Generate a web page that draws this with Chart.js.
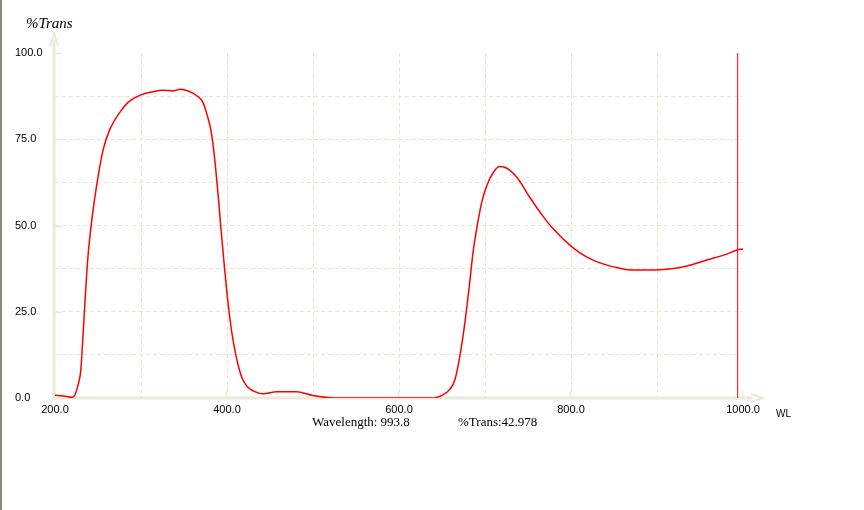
<!DOCTYPE html>
<html><head><meta charset="utf-8">
<script src="https://cdn.jsdelivr.net/npm/chart.js@4.4.0/dist/chart.umd.min.js"></script>
<style>html,body{margin:0;padding:0;background:#fff;overflow:hidden}#wrap{width:864px;height:510px;position:relative}</style>
</head><body><div id="wrap"><canvas id="c" width="864" height="510"></canvas></div>
<script>
const wavelengths = [200,210,219,223,227,230,233,238,243,250,256,264,276,285,299,314,326,337,345,355,365,372,376,381,384,387,390,393,397,401,405,409,413,418,424,431,442,458,481,500,526,560,600,638,651.5,659,665,671,677,682,686,691,696,702,710,717,723,737,752,768,779,801,818,838,857,872,896,911,934,958,981,993.8,1000];
const transmittance = [0.8,0.6,0.2,0.8,4,8,20,40,52,64,72,78,83,85.7,87.8,88.8,89.2,89,89.5,89,87.6,85.7,82.8,78,73,66,58,49,38,28,20,14,9.5,5.5,3.2,2,1.2,1.8,1.8,0.7,0,0,0,0,1,2.5,5.3,12.5,22.6,33,42,50,56.5,61.5,65.5,67.1,66.9,64,58.2,52.5,49.1,43.8,40.9,38.8,37.6,37.1,37.1,37.3,38.2,40,41.7,42.98,43.2];
const cursorWL = 993.8;
const cursorT = 42.978;
const xGridValues = [200,300,400,500,600,700,800,900,1000];
const xLabelValues = [200,400,600,800,1000];
const yGridValues = [0,12.5,25,37.5,50,62.5,75,87.5,100];
const yLabelValues = [0,25,50,75,100];
const xAxisName = 'WL';
const yAxisName = '%Trans';

const AXIS = '#ece9d8';
const GRID = '#e9e5d2';

const axesPlugin = {
  id: 'axesPlugin',
  beforeDatasetsDraw(chart) {
    const {ctx, scales: {x, y}} = chart;
    ctx.save();
    ctx.fillStyle = AXIS;
    const y0 = y.getPixelForValue(0);
    const x0 = x.getPixelForValue(200);
    ctx.fillRect(x0 - 2.5, 40, 3, y0 - 40 + 1.5);
    ctx.fillRect(x0 - 2.5, y0 - 1.5, 755 - x0, 3);
    ctx.strokeStyle = AXIS;
    ctx.lineWidth = 2;
    ctx.beginPath();
    ctx.moveTo(x0 - 5, 46); ctx.lineTo(x0 - 1, 33); ctx.lineTo(x0 + 3, 46);
    ctx.moveTo(751, y0 - 4); ctx.lineTo(763, y0); ctx.lineTo(751, y0 + 4);
    ctx.stroke();
    ctx.lineWidth = 1.5;
    ctx.beginPath();
    yLabelValues.forEach(v => { if (v === 0) return; const py = Math.round(y.getPixelForValue(v)) + 0.5; ctx.moveTo(x0, py); ctx.lineTo(x0 + 7, py); });
    xLabelValues.forEach(v => { if (v === 200) return; const px = Math.round(x.getPixelForValue(v)) - 0.5; ctx.moveTo(px, y0 - 1); ctx.lineTo(px, y0 - 7); });
    ctx.stroke();
    ctx.restore();
  },
  afterDraw(chart) {
    const {ctx} = chart;
    ctx.save();
    ctx.fillStyle = '#8a8a80';
    ctx.fillRect(0, 0, 2, 510);
    ctx.fillStyle = '#000';
    ctx.textBaseline = 'middle';
    ctx.textAlign = 'left';
    ctx.font = 'italic 15px "Liberation Serif"';
    ctx.fillText(yAxisName, 26, 24);
    ctx.font = '10px "Liberation Sans"';
    ctx.fillText(xAxisName, 776, 414);
    ctx.font = '13px "Liberation Serif"';
    ctx.fillText('Wavelength: ' + cursorWL.toFixed(1), 312, 423);
    ctx.fillText('%Trans:' + cursorT.toFixed(3), 458, 423);
    ctx.restore();
  }
};

new Chart(document.getElementById('c'), {
  type: 'line',
  data: {
    datasets: [
      {
        data: wavelengths.map((w, i) => ({x: w, y: transmittance[i]})),
        borderColor: '#ff0000', borderWidth: 1.5, pointRadius: 0,
        cubicInterpolationMode: 'monotone', fill: false
      },
      {
        data: [{x: cursorWL, y: 0}, {x: cursorWL, y: 100}],
        borderColor: '#ff0000', borderWidth: 1, pointRadius: 0, fill: false
      }
    ]
  },
  options: {
    responsive: false,
    devicePixelRatio: 1,
    animation: false,
    events: [],
    layout: {padding: {left: 15, top: 53, right: 121, bottom: 92}},
    plugins: {legend: {display: false}, tooltip: {enabled: false}, title: {display: false}},
    scales: {
      x: {
        type: 'linear', min: 200, max: 1000,
        afterBuildTicks: s => { s.ticks = xGridValues.map(v => ({value: v})); },
        afterFit: s => { s.height = 20; },
        ticks: {
          autoSkip: false, maxRotation: 0, padding: 5, color: '#000',
          font: {family: '"Liberation Sans"', size: 11},
          callback: v => xLabelValues.includes(v) ? v.toFixed(1) : ''
        },
        grid: {
          drawTicks: false, lineWidth: 1,
          color: c => (c.tick && (c.tick.value === 200 || c.tick.value === 1000)) ? 'rgba(0,0,0,0)' : GRID
        },
        border: {display: false, dash: [4, 3]}
      },
      y: {
        type: 'linear', min: 0, max: 100,
        afterBuildTicks: s => { s.ticks = yGridValues.map(v => ({value: v})); },
        afterFit: s => { s.width = 40; },
        ticks: {
          autoSkip: false, crossAlign: 'far', color: '#000',
          font: {family: '"Liberation Sans"', size: 11},
          callback: v => yLabelValues.includes(v) ? v.toFixed(1) : ''
        },
        grid: {
          drawTicks: false, lineWidth: 1,
          color: c => (c.tick && (c.tick.value === 0 || c.tick.value === 100)) ? 'rgba(0,0,0,0)' : GRID
        },
        border: {display: false, dash: [4, 3]}
      }
    }
  },
  plugins: [axesPlugin]
});
</script>
</body></html>
